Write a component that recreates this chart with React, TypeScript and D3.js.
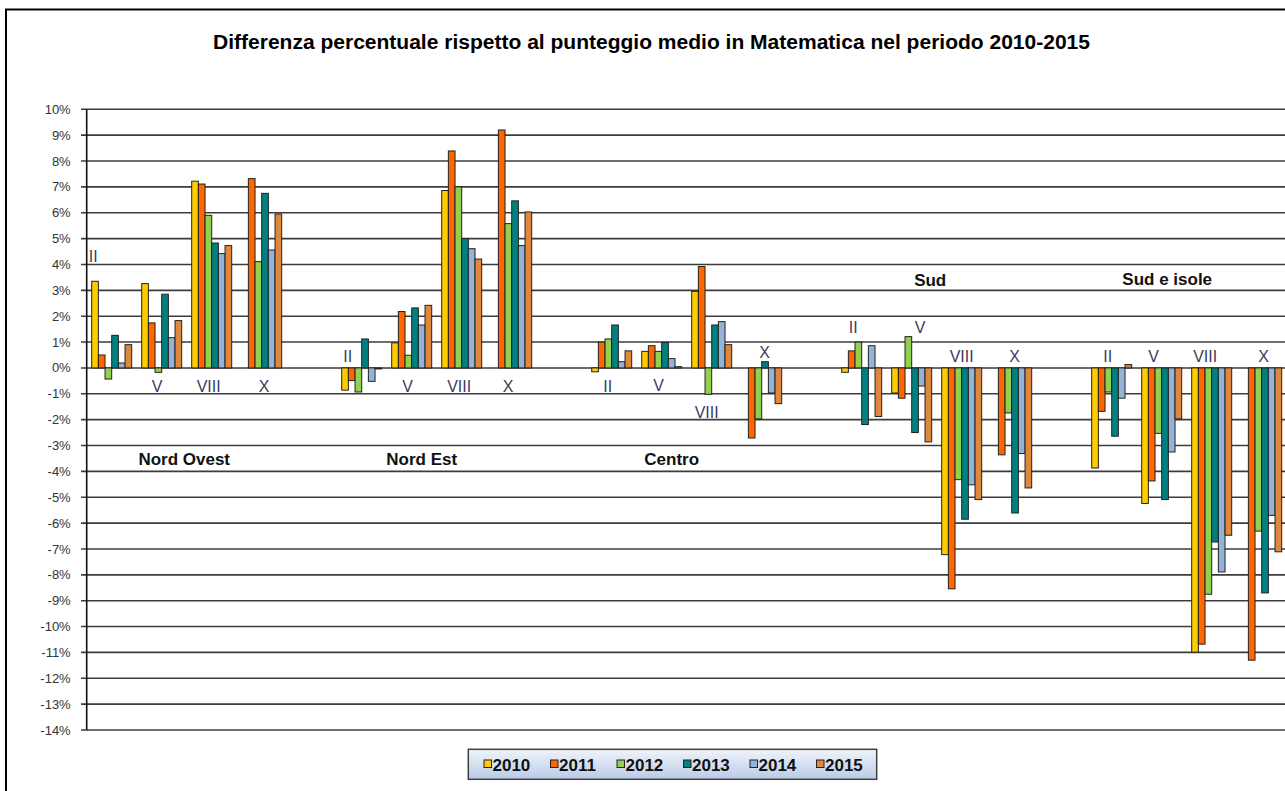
import React from 'react';
import * as d3 from 'd3';

// regions and school levels
const regions = ['Nord Ovest', 'Nord Est', 'Centro', 'Sud', 'Sud e isole'];
const levels = ['II', 'V', 'VIII', 'X'];
const years = ['2010', '2011', '2012', '2013', '2014', '2015'];
const colors = ['#FFCC00', '#FF6600', '#92D050', '#008080', '#95B3D7', '#E0873E'];

// values in %, one row per level, one value per year (null = missing)
const nordOvest = [
  [3.35, 0.5, -0.43, 1.26, 0.19, 0.9],
  [3.26, 1.74, -0.17, 2.85, 1.17, 1.83],
  [7.22, 7.11, 5.9, 4.83, 4.42, 4.73],
  [null, 7.32, 4.11, 6.75, 4.56, 5.95],
];
const nordEst = [
  [-0.86, -0.49, -0.93, 1.12, -0.52, -0.04],
  [0.97, 2.18, 0.49, 2.32, 1.66, 2.42],
  [6.86, 8.39, 7.0, 5.0, 4.61, 4.21],
  [null, 9.2, 5.58, 6.46, 4.73, 6.03],
];
const centro = [
  [-0.15, 1.0, 1.12, 1.66, 0.24, 0.66],
  [0.64, 0.86, 0.64, 0.99, 0.36, 0.05],
  [2.96, 3.92, -1.02, 1.66, 1.79, 0.9],
  [null, -2.71, -1.97, 0.24, -0.97, -1.38],
];
const sud = [
  [-0.17, 0.66, 1.0, -2.19, 0.86, -1.88],
  [-0.97, -1.17, 1.21, -2.5, -0.7, -2.86],
  [-7.22, -8.54, -4.32, -5.85, -4.52, -5.09],
  [null, -3.36, -1.74, -5.61, -3.31, -4.64],
];
const sudIsole = [
  [-3.87, -1.68, -0.93, -2.64, -1.17, 0.13],
  [-5.24, -4.37, -2.53, -5.09, -3.25, -1.97],
  [-10.99, -10.68, -8.75, -6.73, -7.89, -6.47],
  [null, -11.3, -6.31, -8.7, -5.7, -7.11],
];
const regionValues = [nordOvest, nordEst, centro, sud, sudIsole];

const yTicks = d3.range(-14, 11, 1);

// hand-placed labels: [slot position (categories from left), value %]
const levelLabelPos = [
  [[0.13, 4.11], [1.41, -0.95], [2.44, -0.95], [3.55, -0.95]],
  [[5.22, 0.24], [6.42, -0.95], [7.45, -0.95], [8.43, -0.95]],
  [[10.42, -0.92], [11.44, -0.88], [12.4, -1.92], [13.56, 0.4]],
  [[15.33, 1.36], [16.67, 1.36], [17.5, 0.24], [18.56, 0.24]],
  [[20.42, 0.24], [21.34, 0.24], [22.37, 0.24], [23.54, 0.24]],
];
const regionLabelPos = [[1.95, -3.74], [6.7, -3.74], [11.7, -3.74], [16.87, 3.18], [21.61, 3.22]];

const title = 'Differenza percentuale rispetto al punteggio medio in Matematica nel periodo 2010-2015';
const font = "Arial, 'Liberation Sans', sans-serif";

export default function App() {
  const W = 1285;
  const H = 791;
  const left = 86.7;
  const slotW = 50;

  // 4 levels per region + one empty slot between regions
  const slots: string[] = [];
  regions.forEach((r, ri) => {
    levels.forEach((l) => slots.push(`${r}|${l}`));
    if (ri < regions.length - 1) slots.push(`gap${ri}`);
  });

  const x = d3.scaleBand<string>().domain(slots).range([left, left + slots.length * slotW]).padding(0);
  const xi = d3.scaleBand<string>().domain(years).range([5, slotW - 5]).padding(0);
  const pos = d3.scaleLinear().domain([0, slots.length]).range([left, left + slots.length * slotW]);
  const y = d3.scaleLinear().domain([-14, 10]).range([730, 109.3]);

  const bars: any[] = [];
  regions.forEach((r, ri) => {
    levels.forEach((l, li) => {
      regionValues[ri][li].forEach((v, yi) => {
        if (v === null) return;
        bars.push({ key: `${r}-${l}-${yi}`, x: (x(`${r}|${l}`) as number) + (xi(years[yi]) as number), v, c: colors[yi] });
      });
    });
  });

  const legendX = 468.3;
  const legendStep = 66.5;

  return (
    <svg width={W} height={H} style={{ position: 'absolute', left: 0, top: 0, background: '#fff' }} fontFamily={font}>
      <defs>
        <linearGradient id="lg" x1="0" y1="0" x2="0" y2="1">
          <stop offset="0" stopColor="#f0f4fb" />
          <stop offset="1" stopColor="#b9cbe6" />
        </linearGradient>
      </defs>
      <rect x={6} y={9.5} width={W + 20} height={H + 20} fill="#fff" stroke="#000" strokeWidth={2} />

      <text
        x={651.5}
        y={49}
        textAnchor="middle"
        fontSize={19.5}
        fontWeight="bold"
        fill="#000"
        textLength={877}
        lengthAdjust="spacingAndGlyphs"
      >
        {title}
      </text>

      {/* gridlines and y axis */}
      {yTicks.map((t) => (
        <g key={t}>
          <line x1={81} x2={left + slots.length * slotW} y1={y(t)} y2={y(t)} stroke="#3c3c3c" strokeWidth={1.6} />
          <text x={70.7} y={y(t)} dy="0.35em" textAnchor="end" fontSize={13} fill="#333">
            {`${t}%`}
          </text>
        </g>
      ))}
      <line x1={left} x2={left} y1={y(10)} y2={y(-14)} stroke="#111" strokeWidth={1.6} />

      {/* bars */}
      {bars.map((b) => (
        <rect
          key={b.key}
          x={b.x}
          y={y(Math.max(0, b.v))}
          width={xi.bandwidth()}
          height={Math.abs(y(b.v) - y(0))}
          fill={b.c}
          stroke="#222"
          strokeWidth={1}
        />
      ))}

      {/* level labels */}
      {levelLabelPos.map((row, ri) =>
        row.map((p, li) => (
          <text key={`${ri}-${li}`} x={pos(p[0])} y={y(p[1])} textAnchor="middle" fontSize={16} fill="#3b3b5e">
            {levels[li]}
          </text>
        ))
      )}
      {regionLabelPos.map((p, ri) => (
        <text key={ri} x={pos(p[0])} y={y(p[1])} textAnchor="middle" fontSize={17} fontWeight="bold" fill="#111">
          {regions[ri]}
        </text>
      ))}

      {/* legend */}
      <rect x={legendX} y={749.3} width={408.4} height={30} fill="url(#lg)" stroke="#404040" strokeWidth={1.5} />
      {years.map((yr, i) => (
        <g key={yr} transform={`translate(${484 + i * legendStep},0)`}>
          <rect x={0} y={760} width={7.5} height={7.5} fill={colors[i]} stroke="#222" strokeWidth={1} />
          <text x={8.5} y={771} fontSize={17} fontWeight="bold" fill="#111">
            {yr}
          </text>
        </g>
      ))}
    </svg>
  );
}
